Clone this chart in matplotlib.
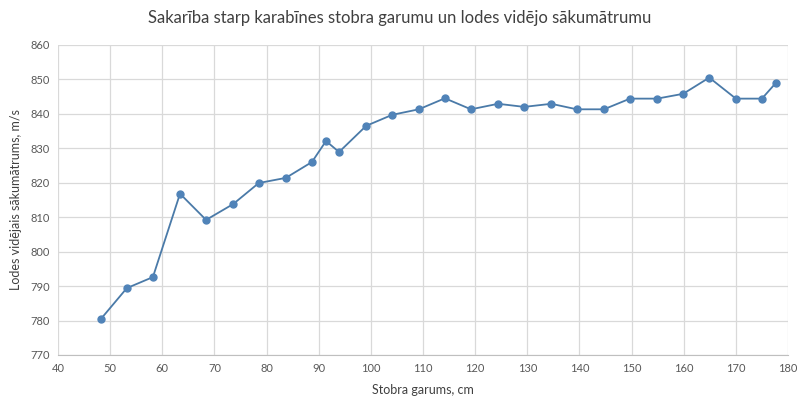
import matplotlib.pyplot as plt

# barrel length (cm) and mean muzzle velocity (m/s)
barrel_cm = [48.2, 53.2, 58.2, 63.4, 68.4, 73.6, 78.5, 83.7, 88.7, 91.4,
             93.9, 99.1, 104.1, 109.2, 114.2, 119.2, 124.4, 129.4, 134.6,
             139.5, 144.7, 149.7, 154.9, 159.9, 164.9, 170.0, 175.0, 177.7]
velocity = [780.4, 789.4, 792.6, 816.8, 809.2, 813.8, 819.9, 821.4, 826.0,
            832.1, 828.9, 836.5, 839.7, 841.3, 844.5, 841.3, 842.9, 842.0,
            842.9, 841.3, 841.3, 844.4, 844.4, 845.8, 850.5, 844.4, 844.4,
            849.0]

x_ticks = list(range(40, 181, 10))
y_ticks = list(range(770, 861, 10))

plt.rcParams['font.family'] = ['Lato', 'DejaVu Sans']

fig = plt.figure(figsize=(8, 4.08), dpi=100)
ax = fig.add_axes([0.0725, 0.13, 0.9125, 0.76])

ax.plot(barrel_cm, velocity, color='#4a7aa8', linewidth=1.3,
        marker='o', markersize=5, markerfacecolor='#5083b8',
        markeredgecolor='#5083b8', zorder=3)

ax.set_xlim(40, 180)
ax.set_ylim(770, 860)
ax.set_xticks(x_ticks)
ax.set_yticks(y_ticks)
ax.grid(True, color='#d9d9d9', linewidth=0.9)
ax.tick_params(length=0, labelsize=8, colors='#595959', pad=6)

for side in ['top', 'right', 'left']:
    ax.spines[side].set_visible(False)
ax.spines['bottom'].set_color('#bfbfbf')

ax.set_xlabel('Stobra garums, cm', fontsize=9, color='#404040', labelpad=7)
ax.set_ylabel('Lodes vidējais sākumātrums, m/s', fontsize=9,
              color='#404040', labelpad=6)
fig.suptitle('Sakarība starp karabīnes stobra garumu un lodes vidējo sākumātrumu',
             fontsize=12, color='#404040', y=0.975)

fig.savefig('out.png', dpi=100, facecolor='white')
